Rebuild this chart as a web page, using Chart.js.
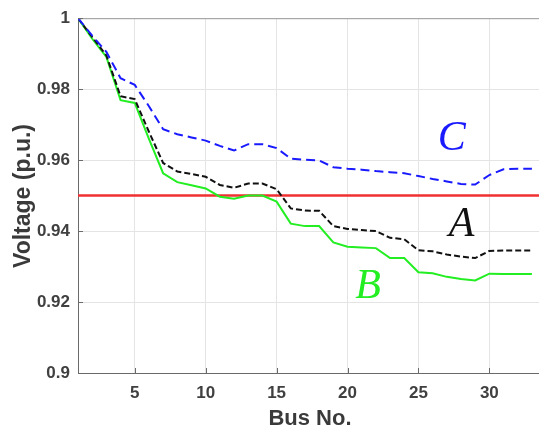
<!DOCTYPE html>
<html>
<head>
<meta charset="utf-8">
<script src="https://cdn.jsdelivr.net/npm/chart.js@4"></script>
<style>
  html, body { margin: 0; padding: 0; background: #fff; overflow: hidden; }
</style>
</head>
<body>
<canvas id="voltage-chart" width="539" height="430"></canvas>
<script>
// Voltage profile along the feeder
const buses = [1, 2, 3, 4, 5, 6, 7, 8, 9, 10, 11, 12, 13, 14, 15, 16, 17,
  18, 19, 20, 21, 22, 23, 24, 25, 26, 27, 28, 29, 30, 31, 32, 33];

const voltageA = [1.0, 0.9947, 0.9895, 0.978, 0.9772, 0.968, 0.9592, 0.9568, 0.9561, 0.9553, 0.953,
  0.9522, 0.9534, 0.9534, 0.9518, 0.9464, 0.9458, 0.9457, 0.9414, 0.9406, 0.9403, 0.94,
  0.9381, 0.9377, 0.9346, 0.9343, 0.9334, 0.9328, 0.9324, 0.9344, 0.9345, 0.9345, 0.9345];

const voltageB = [1.0, 0.9942, 0.9891, 0.9769, 0.9761, 0.966, 0.9563, 0.9538, 0.9529, 0.952, 0.9497,
  0.9491, 0.95, 0.95, 0.9483, 0.9421, 0.9414, 0.9414, 0.9368, 0.9356, 0.9354, 0.9352,
  0.9324, 0.9324, 0.9284, 0.9281, 0.9271, 0.9265, 0.9261, 0.928, 0.9279, 0.9279, 0.9279];

const voltageC = [1.0, 0.9951, 0.9905, 0.9831, 0.9812, 0.9752, 0.9687, 0.9673, 0.9664, 0.9655, 0.964,
  0.9627, 0.9645, 0.9645, 0.9634, 0.9604, 0.9601, 0.9599, 0.958, 0.9576, 0.9573, 0.9569,
  0.9566, 0.9563, 0.9555, 0.9547, 0.954, 0.9533, 0.9531, 0.9558, 0.9574, 0.9576, 0.9576];

const voltageLimit = 0.95;
const xTicks = [5, 10, 15, 20, 25, 30];
const yTicks = [0.9, 0.92, 0.94, 0.96, 0.98, 1];

// curve names written inside the plot, anchored in data units
const curveLabels = [
  { text: "C", bus: 27.35, v: 0.9659, color: "#1a1aff" },
  { text: "A", bus: 28.05, v: 0.9418, color: "#111" },
  { text: "B", bus: 21.45, v: 0.9242, color: "#22ee22" },
];

const toPoints = (ys) => ys.map((y, i) => ({ x: buses[i], y }));

const frameAndLabels = {
  id: "frameAndLabels",
  afterDatasetsDraw(chart) {
    const { ctx, chartArea, scales } = chart;
    ctx.save();
    // top edge of the axes box (right edge is cropped off in the reference)
    ctx.strokeStyle = "#9a9a9a";
    ctx.lineWidth = 1;
    ctx.beginPath();
    ctx.moveTo(chartArea.left, chartArea.top + 0.5);
    ctx.lineTo(chartArea.right, chartArea.top + 0.5);
    ctx.stroke();

    // MATLAB-style inward tick marks
    ctx.strokeStyle = "#6a6a6a";
    ctx.beginPath();
    for (const t of xTicks) {
      const px = Math.round(scales.x.getPixelForValue(t)) + 0.5;
      ctx.moveTo(px, chartArea.bottom);
      ctx.lineTo(px, chartArea.bottom - 5);
    }
    for (const t of yTicks) {
      const py = Math.round(scales.y.getPixelForValue(t)) + 0.5;
      ctx.moveTo(chartArea.left, py);
      ctx.lineTo(chartArea.left + 5, py);
    }
    ctx.stroke();

    ctx.font = "italic 42px 'Liberation Serif', 'DejaVu Serif', serif";
    ctx.textAlign = "center";
    ctx.textBaseline = "middle";
    for (const lbl of curveLabels) {
      ctx.fillStyle = lbl.color;
      ctx.fillText(lbl.text, scales.x.getPixelForValue(lbl.bus), scales.y.getPixelForValue(lbl.v));
    }

    // axis titles
    ctx.fillStyle = "#3a3a3a";
    ctx.font = "bold 22px 'Liberation Sans', Arial, sans-serif";
    ctx.fillText("Bus No.", 310, 419);
    ctx.font = "bold 23px 'Liberation Sans', Arial, sans-serif";
    ctx.translate(24, 196);
    ctx.rotate(-Math.PI / 2);
    ctx.fillText("Voltage (p.u.)", 0, 0);
    ctx.restore();
  },
};

new Chart(document.getElementById("voltage-chart"), {
  type: "line",
  data: {
    datasets: [
      { label: "C", data: toPoints(voltageC), borderColor: "#1a1aff", borderWidth: 2, borderDash: [9, 5] },
      { label: "A", data: toPoints(voltageA), borderColor: "#111", borderWidth: 2, borderDash: [6, 3] },
      { label: "B", data: toPoints(voltageB), borderColor: "#22ee22", borderWidth: 2 },
      { label: "Limit", data: [{ x: 1, y: voltageLimit }, { x: 33.5, y: voltageLimit }],
        borderColor: "#f03030", borderWidth: 2.5 },
    ],
  },
  options: {
    responsive: false,
    devicePixelRatio: 1,
    animation: false,
    elements: { point: { radius: 0 }, line: { tension: 0 } },
    layout: { padding: { top: 15, right: 0, left: 0, bottom: 0 } },
    plugins: { legend: { display: false }, tooltip: { enabled: false } },
    scales: {
      x: {
        type: "linear",
        min: 1,
        max: 33.5,
        afterBuildTicks: (scale) => { scale.ticks = xTicks.map((value) => ({ value })); },
        afterFit: (scale) => { scale.height = 57; },
        grid: { color: "#e4e4e4", drawTicks: false },
        border: { color: "#6a6a6a", width: 1 },
        ticks: {
          padding: 10,
          color: "#404040",
          font: { family: "'Liberation Sans', Arial, sans-serif", size: 17, weight: "bold" },
        },
      },
      y: {
        min: 0.9,
        max: 1,
        afterBuildTicks: (scale) => { scale.ticks = yTicks.map((value) => ({ value })); },
        afterFit: (scale) => { scale.width = 78; },
        grid: { color: "#e4e4e4", drawTicks: false },
        border: { color: "#6a6a6a", width: 1 },
        ticks: {
          padding: 8,
          color: "#404040",
          font: { family: "'Liberation Sans', Arial, sans-serif", size: 17, weight: "bold" },
          callback: (v) => String(Number(v.toFixed(2))),
        },
      },
    },
  },
  plugins: [frameAndLabels],
});
</script>
</body>
</html>
